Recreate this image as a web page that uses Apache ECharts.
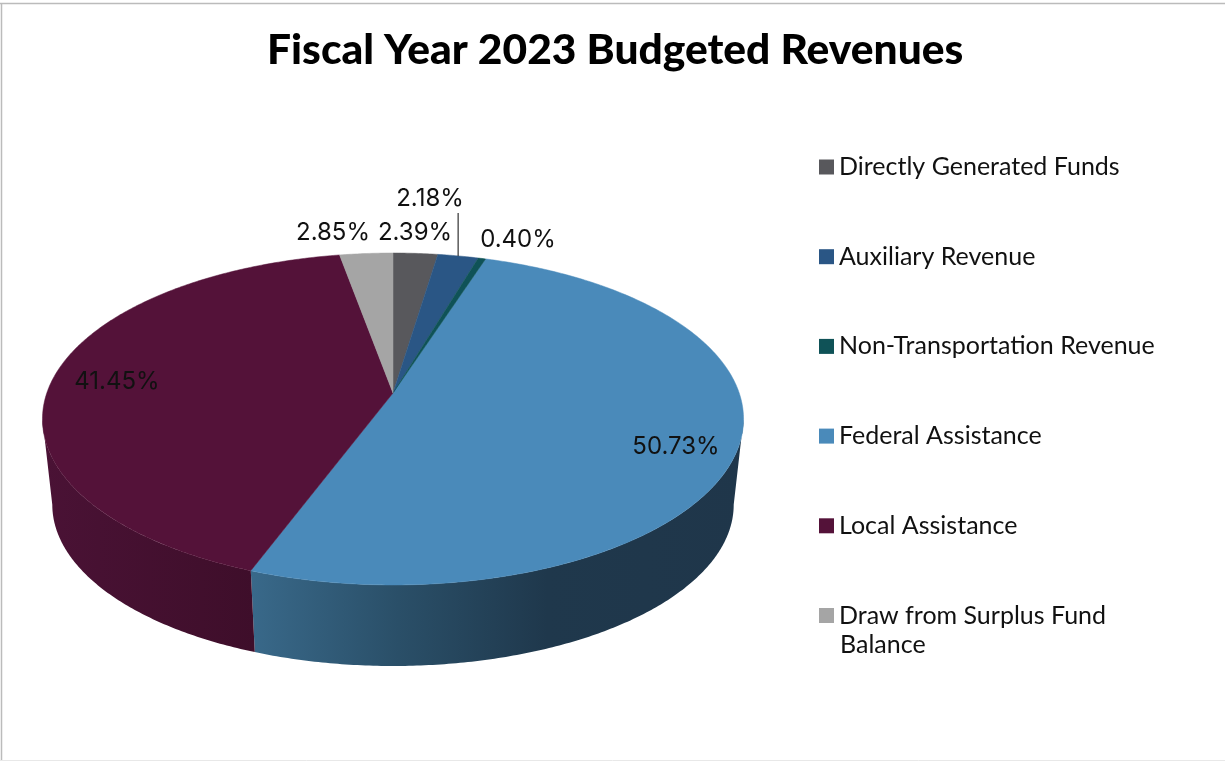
<!DOCTYPE html>
<html>
<head>
<meta charset="utf-8">
<title>Fiscal Year 2023 Budgeted Revenues</title>
<script src="https://cdn.jsdelivr.net/npm/echarts@6/dist/echarts.min.js"></script>
<style>
  html, body { margin: 0; padding: 0; background: #fff; }
  #pie { width: 1225px; height: 761px; }
</style>
</head>
<body>
<div id="pie"></div>
<script>
var categories = ['Directly Generated Funds', 'Auxiliary Revenue', 'Non-Transportation Revenue',
  'Federal Assistance', 'Local Assistance', 'Draw from Surplus Fund Balance'];
var shares = [2.39, 2.18, 0.40, 50.73, 41.45, 2.85];
var colors = ['#58585c', '#2a5685', '#0f5257', '#4a8aba', '#541239', '#a5a5a5'];
var labelSpots = [[415, 233], [430, 199], [518, 240], [676, 447], [117, 382], [333, 233]];

// 透视后的圆盘
var disc = { cx: 393, cy: 393, a: 346.2, b: 161.9, k: 0.1566, depth: 86.4, shrink: 0.972 };
// 侧面可见范围的起点(左右轮廓线)
var sideAngle = Math.acos(-disc.k);

function discPoint (angle, lower) {
  var u = Math.sin(angle), v = -Math.cos(angle), w = 1 - disc.k * v;
  var s = lower ? disc.shrink : 1;
  return [disc.cx + s * disc.a * u / w, disc.cy + (lower ? disc.depth : 0) + s * disc.b * v / w];
}

function arcPoints (from, to, lower) {
  var pts = [], n = Math.max(2, Math.ceil((to - from) / 0.01));
  for (var i = 0; i <= n; i++) {
    pts.push(discPoint(from + (to - from) * i / n, lower));
  }
  return pts;
}

// 侧面渐变
var wallFill = {
  3: { type: 'linear', global: true, x: 250, y: 0, x2: 745, y2: 0, colorStops: [
    { offset: 0, color: '#39698a' }, { offset: 0.3, color: '#2a4f68' },
    { offset: 0.6, color: '#1f384c' }, { offset: 1, color: '#1f364a' }] },
  4: { type: 'linear', global: true, x: 45, y: 0, x2: 255, y2: 0, colorStops: [
    { offset: 0, color: '#4a1235' }, { offset: 1, color: '#3e0e2a' }] }
};

function sliceRange (idx) {
  var total = shares.reduce(function (a, b) { return a + b; }, 0), sum = 0;
  for (var i = 0; i < idx; i++) { sum += shares[i]; }
  return [sum / total * Math.PI * 2, (sum + shares[idx]) / total * Math.PI * 2];
}

function renderSlice (params, api) {
  var idx = params.seriesIndex;
  var range = sliceRange(idx);
  var top = arcPoints(range[0], range[1], false);
  var children = [];
  if (wallFill[idx]) {
    var from = Math.max(range[0], sideAngle);
    var to = Math.min(range[1], Math.PI * 2 - sideAngle);
    var wall = arcPoints(from, to, false).concat(arcPoints(from, to, true).reverse());
    children.push({ type: 'polygon', z2: 1, shape: { points: wall }, style: { fill: wallFill[idx] } });
  }
  children.push({
    type: 'polygon',
    z2: 10,
    shape: { points: [[disc.cx, disc.cy]].concat(top) },
    style: { fill: colors[idx], stroke: colors[idx], lineWidth: 0.5 }
  });
  children.push({
    type: 'text',
    z2: 20,
    style: {
      text: api.value(0).toFixed(2) + '%',
      x: labelSpots[idx][0],
      y: labelSpots[idx][1],
      align: 'center',
      verticalAlign: 'middle',
      fill: '#111',
      font: '24px Inter'
    }
  });
  // 2.18% 的引导线
  if (idx === 1) {
    var rim = discPoint((range[0] + range[1]) / 2, false);
    children.push({
      type: 'line',
      z2: 20,
      shape: { x1: rim[0], y1: labelSpots[idx][1] + 14, x2: rim[0], y2: rim[1] },
      style: { stroke: '#333', lineWidth: 1.2 }
    });
  }
  return { type: 'group', children: children };
}

const myChart = echarts.init(document.getElementById('pie'));
const option = {
  backgroundColor: '#fff',
  animation: false,
  color: colors,
  title: {
    text: 'Fiscal Year 2023 Budgeted Revenues',
    left: 262,
    top: 24,
    textStyle: { fontFamily: 'Lato', fontWeight: 900, fontSize: 42.5, color: '#000' }
  },
  legend: {
    orient: 'vertical',
    left: 819,
    top: 152,
    padding: 0,
    itemWidth: 15,
    itemHeight: 15,
    itemGap: 59.7,
    icon: 'rect',
    selectedMode: false,
    textStyle: { fontFamily: 'Lato', fontSize: 25, color: '#111', lineHeight: 30 },
    data: categories,
    formatter: function (name) {
      return name === categories[5] ? 'Draw from Surplus Fund' : name;
    }
  },
  graphic: [
    { type: 'line', silent: true, shape: { x1: 0, y1: 3.5, x2: 1225, y2: 3.5 },
      style: { stroke: '#bbbbbb', lineWidth: 1.5 } },
    { type: 'line', silent: true, shape: { x1: 1.5, y1: 3, x2: 1.5, y2: 761 },
      style: { stroke: '#bbbbbb', lineWidth: 1.5 } },
    { type: 'line', silent: true, shape: { x1: 0, y1: 760.5, x2: 1225, y2: 760.5 },
      style: { stroke: '#e8e8e8', lineWidth: 1 } },
    { type: 'text', silent: true, x: 840, y: 645,
      style: { text: 'Balance', font: '25px Lato', fill: '#111', verticalAlign: 'middle' } }
  ],
  series: categories.map(function (name, i) {
    return {
      name: name,
      type: 'custom',
      coordinateSystem: 'none',
      z: i === 3 || i === 4 ? 2 : 3,
      itemStyle: { color: colors[i] },
      renderItem: renderSlice,
      data: [[shares[i]]]
    };
  })
};
myChart.setOption(option);
window.addEventListener('resize', function () {
  myChart.resize();
});
</script>
</body>
</html>
